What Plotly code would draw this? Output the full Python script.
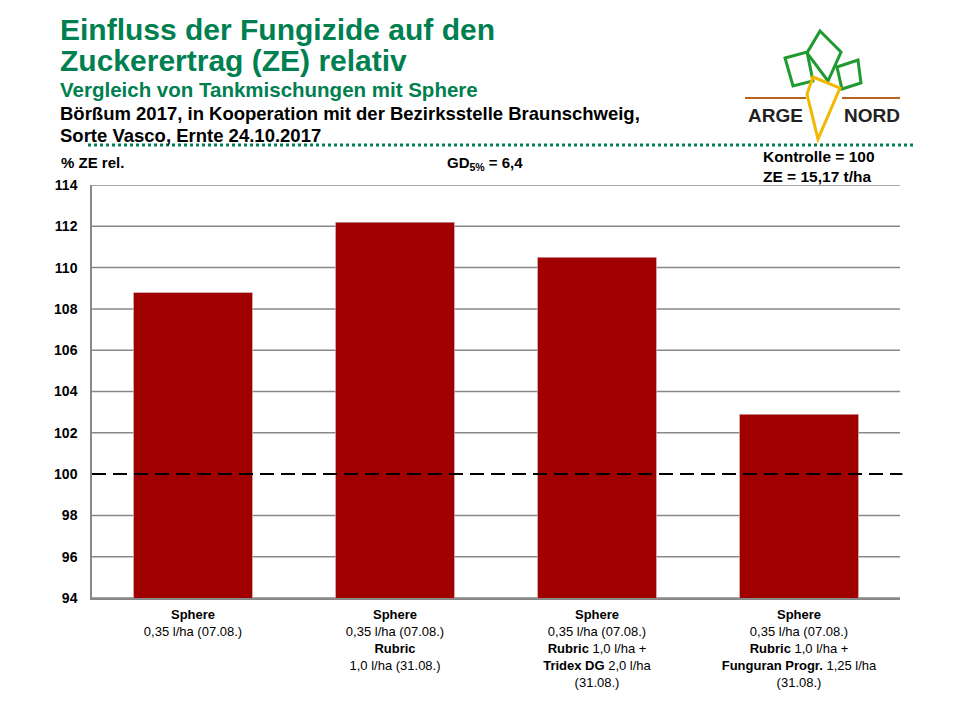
import plotly.graph_objects as go

# Daten aus der Grafik
categories = [
    "<b>Sphere</b><br>0,35 l/ha (07.08.)",
    "<b>Sphere</b><br>0,35 l/ha (07.08.)<br><b>Rubric</b><br>1,0 l/ha (31.08.)",
    "<b>Sphere</b><br>0,35 l/ha (07.08.)<br><b>Rubric</b> 1,0 l/ha +<br><b>Tridex DG</b> 2,0 l/ha<br>(31.08.)",
    "<b>Sphere</b><br>0,35 l/ha (07.08.)<br><b>Rubric</b> 1,0 l/ha +<br><b>Funguran Progr.</b> 1,25 l/ha<br>(31.08.)",
]
ze_rel = [108.8, 112.2, 110.5, 102.9]
kontrolle = 100
y_ticks = [94, 96, 98, 100, 102, 104, 106, 108, 110, 112, 114]

GREEN = "#008050"
BAR = "#A00000"

# plot area in pixels as seen on the page (page body adds 8px offset)
L, R, T, B = 92, 900, 185, 598
OFF = 8


def px(x, y):
    # pixel position -> paper coordinates of the plot area
    return (x - L) / (R - L), (B - y) / (B - T)


def path(points):
    pts = [px(x, y) for x, y in points]
    return "M " + " L ".join(f"{a:.4f},{b:.4f}" for a, b in pts) + " Z"


fig = go.Figure()
fig.add_bar(x=categories, y=ze_rel, marker_color=BAR, width=0.59)

shapes = []
# Gitterlinien (ohne 100, dort liegt die Kontrolle-Linie)
for t in y_ticks:
    if t == kontrolle:
        continue
    shapes.append(dict(type="line", xref="paper", yref="y", x0=0, x1=1,
                       y0=t, y1=t, layer="below",
                       line=dict(color="#888888", width=1.5)))
shapes.append(dict(type="line", xref="paper", yref="y", x0=0, x1=1.003,
                   y0=kontrolle, y1=kontrolle,
                   line=dict(color="black", width=2, dash="14px,7px")))
# gruene gepunktete Linie unter dem Kopf
x0, y0 = px(88, 145)
x1, _ = px(915, 145)
shapes.append(dict(type="line", xref="paper", yref="paper", x0=x0, x1=x1,
                   y0=y0, y1=y0, line=dict(color=GREEN, width=3, dash="dot")))

# Logo (vereinfacht)
yb = px(0, 98)[1]
shapes.append(dict(type="line", xref="paper", yref="paper",
                   x0=px(745, 98)[0], x1=px(806, 98)[0], y0=yb, y1=yb,
                   line=dict(color="#B5651D", width=2)))
shapes.append(dict(type="line", xref="paper", yref="paper",
                   x0=px(842, 98)[0], x1=px(900, 98)[0], y0=yb, y1=yb,
                   line=dict(color="#B5651D", width=2)))
for leaf in [
    [(820, 31), (841, 52), (828, 81), (807, 53)],
    [(785, 58), (807, 52), (813, 81), (793, 86)],
    [(837, 67), (858, 60), (861, 83), (842, 89)],
]:
    shapes.append(dict(type="path", xref="paper", yref="paper", path=path(leaf),
                       line=dict(color="#1E9A2E", width=3)))
shapes.append(dict(type="path", xref="paper", yref="paper",
                   path=path([(813, 77), (840, 88), (818, 139), (807, 94)]),
                   line=dict(color="#F2B800", width=3)))

annotations = []


def text(x, y, s, size, color="black", anchor="left"):
    ax, ay = px(x, y)
    annotations.append(dict(
        x=ax, y=ay, xref="paper", yref="paper", xanchor=anchor, yanchor="middle",
        text=f"<b>{s}</b>", showarrow=False,
        font=dict(size=size, color=color, family="Liberation Sans")))


text(58, 29, "Einfluss der Fungizide auf den", 30, GREEN)
text(58, 61, "Zuckerertrag (ZE) relativ", 30, GREEN)
text(58, 89, "Vergleich von Tankmischungen mit Sphere", 20.5, GREEN)
text(58, 114, "Börßum 2017, in Kooperation mit der Bezirksstelle Braunschweig,", 18.5)
text(58, 135, "Sorte Vasco, Ernte 24.10.2017", 18.5)
text(59, 162, "% ZE rel.", 15)
text(485, 163, "GD<sub>5%</sub> = 6,4", 15, anchor="center")
text(761, 157, "Kontrolle = 100", 15.5)
text(761, 176, "ZE = 15,17 t/ha", 15.5)
text(775, 115, "ARGE", 19, color="#222222", anchor="center")
text(872, 115, "NORD", 19, color="#222222", anchor="center")

fig.update_layout(
    width=960, height=720,
    margin=dict(l=L - OFF, r=960 - R + OFF, t=T - OFF, b=720 - B + OFF),
    paper_bgcolor="white", plot_bgcolor="white",
    showlegend=False,
    shapes=shapes, annotations=annotations,
    font=dict(family="Liberation Sans", color="black"),
    xaxis=dict(
        showgrid=False, showline=True, linecolor="#888888", linewidth=1.5,
        ticks="", tickfont=dict(size=13, family="Liberation Sans"),
        ticklabelstandoff=4, fixedrange=True,
    ),
    yaxis=dict(
        range=[94, 114], tickvals=y_ticks, showgrid=False,
        showline=True, linecolor="#888888", linewidth=1.5,
        ticks="", tickfont=dict(size=14, family="Liberation Sans", weight="bold"),
        ticklabelstandoff=10, zeroline=False, fixedrange=True,
    ),
)

fig.write_html("out.html")
